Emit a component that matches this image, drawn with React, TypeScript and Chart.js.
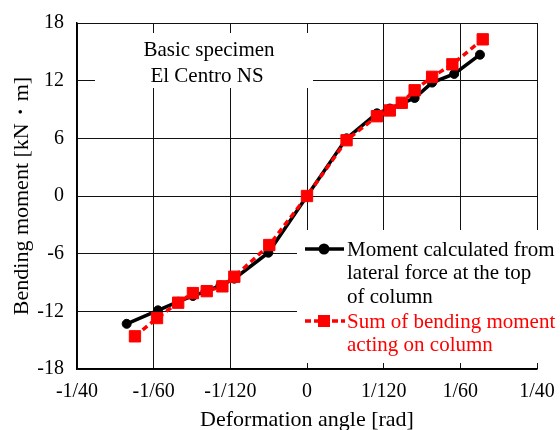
import React, { useEffect, useRef } from 'react';
import { Chart, registerables } from 'chart.js';

Chart.register(...registerables);

// Axis ticks
const xTickValues = [-3 / 120, -2 / 120, -1 / 120, 0, 1 / 120, 2 / 120, 3 / 120];
const xTickLabels = ['-1/40', '-1/60', '-1/120', '0', '1/120', '1/60', '1/40'];
const yTickValues = [-18, -12, -6, 0, 6, 12, 18];

// Series 1: Moment calculated from lateral force at the top of column
const lateralAngle = [-0.0196, -0.0162, -0.0140, -0.0124, -0.0109, -0.0094, -0.0079, -0.0042, 0, 0.0043, 0.0076, 0.0090, 0.0103, 0.0117, 0.0136, 0.0160, 0.0188];
const lateralMoment = [-13.3, -11.9, -11.0, -10.4, -9.9, -9.3, -8.6, -5.9, 0, 6.0, 8.6, 9.1, 9.6, 10.2, 11.8, 12.7, 14.7];

// Series 2: Sum of bending moment acting on column
const sumAngle = [-0.0187, -0.0163, -0.0140, -0.0124, -0.0109, -0.0092, -0.0079, -0.0041, 0, 0.0043, 0.0076, 0.0090, 0.0103, 0.0117, 0.0136, 0.0158, 0.0191];
const sumMoment = [-14.6, -12.7, -11.1, -10.1, -9.9, -9.4, -8.4, -5.1, 0, 5.8, 8.3, 8.9, 9.7, 11.0, 12.4, 13.7, 16.3];

const seriesNames = [
  'Moment calculated from lateral force at the top of column',
  'Sum of bending moment acting on column',
];
const legendLines1 = ['Moment calculated from', 'lateral force at the top', 'of column'];
const legendLines2 = ['Sum of bending moment', 'acting on column'];
const titleLines = ['Basic specimen', 'El Centro NS'];
const xTitle = 'Deformation angle [rad]';
const yTitle = 'Bending moment [kN・m]';

const FONT = '"Liberation Serif", "Times New Roman", serif';

const overlayPlugin = {
  id: 'overlay',
  beforeDatasetsDraw(chart: any) {
    const ctx = chart.ctx;
    ctx.save();
    ctx.fillStyle = '#ffffff';
    // title box
    ctx.fillRect(95, 33, 218, 55);
    // legend box
    ctx.fillRect(297, 230, 263, 133);
    ctx.restore();
  },
  afterDraw(chart: any) {
    const ctx = chart.ctx;
    ctx.save();
    ctx.font = `21px ${FONT}`;
    ctx.textBaseline = 'middle';
    ctx.textAlign = 'center';
    ctx.fillStyle = '#000';
    ctx.fillText(titleLines[0], 209, 50);
    ctx.fillText(titleLines[1], 207, 76);

    // legend
    ctx.textAlign = 'left';
    const lh = 23.8;
    legendLines1.forEach((t, i) => ctx.fillText(t, 347, 250 + i * lh));
    ctx.fillStyle = '#ff0000';
    legendLines2.forEach((t, i) => ctx.fillText(t, 347, 322 + i * lh));

    // black sample
    ctx.strokeStyle = '#000';
    ctx.lineWidth = 3.5;
    ctx.beginPath();
    ctx.moveTo(305, 249);
    ctx.lineTo(344, 249);
    ctx.stroke();
    ctx.fillStyle = '#000';
    ctx.beginPath();
    ctx.arc(324, 249, 5.5, 0, Math.PI * 2);
    ctx.fill();

    // red sample
    ctx.strokeStyle = '#ff0000';
    ctx.setLineDash([6, 3]);
    ctx.beginPath();
    ctx.moveTo(305, 321);
    ctx.lineTo(345, 321);
    ctx.stroke();
    ctx.setLineDash([]);
    ctx.fillStyle = '#ff0000';
    ctx.fillRect(318, 315, 12, 12);
    ctx.restore();
  },
};

export default function App() {
  const ref = useRef<HTMLCanvasElement>(null);
  useEffect(() => {
    document.body.style.margin = '0';
    const canvas = ref.current!;
    const chart = new Chart(canvas, {
      type: 'line',
      data: {
        datasets: [
          {
            label: seriesNames[0],
            data: lateralAngle.map((x, i) => ({ x, y: lateralMoment[i] })),
            borderColor: '#000',
            backgroundColor: '#000',
            borderWidth: 3.5,
            pointRadius: 4.5,
            pointBorderWidth: 1,
            pointStyle: 'circle',
            order: 1,
          },
          {
            label: seriesNames[1],
            data: sumAngle.map((x, i) => ({ x, y: sumMoment[i] })),
            borderColor: '#ff0000',
            backgroundColor: '#ff0000',
            borderWidth: 3.5,
            borderDash: [6, 4],
            pointRadius: 8,
            pointBorderWidth: 1,
            pointStyle: 'rect',
            order: 0,
          },
        ],
      },
      options: {
        responsive: false,
        animation: false,
        events: [],
        layout: { padding: { top: 23, right: 23, left: 0, bottom: 0 } },
        plugins: {
          legend: { display: false },
          tooltip: { enabled: false },
        },
        scales: {
          x: {
            type: 'linear',
            min: -0.025,
            max: 0.025,
            afterBuildTicks: (scale: any) => {
              scale.ticks = xTickValues.map((v) => ({ value: v }));
            },
            afterFit: (scale: any) => {
              scale.height = 61;
              scale.paddingLeft = 0;
              scale.paddingRight = 0;
            },
            ticks: {
              padding: 11,
              color: '#000',
              font: { family: FONT, size: 20 },
              callback: (_v: any, i: number) => xTickLabels[i],
              maxRotation: 0,
              autoSkip: false,
            },
            grid: { color: '#111', lineWidth: 1, drawTicks: false },
            border: { color: '#000', width: 1.5 },
            title: {
              display: true,
              text: xTitle,
              color: '#000',
              font: { family: FONT, size: 22 },
              padding: { top: 0, bottom: -3 },
            },
          },
          y: {
            type: 'linear',
            min: -18,
            max: 18,
            afterBuildTicks: (scale: any) => {
              scale.ticks = yTickValues.map((v) => ({ value: v }));
            },
            afterFit: (scale: any) => {
              scale.width = 77;
              scale.paddingTop = 0;
              scale.paddingBottom = 0;
            },
            ticks: {
              padding: 13,
              color: '#000',
              font: { family: FONT, size: 20 },
              callback: (v: any) => String(v),
            },
            grid: { color: '#111', lineWidth: 1, drawTicks: false },
            border: { color: '#000', width: 1.5 },
            title: {
              display: true,
              text: yTitle,
              color: '#000',
              font: { family: FONT, size: 22 },
              padding: { top: 9, bottom: 0 },
            },
          },
        },
      },
      plugins: [overlayPlugin],
    } as any);
    return () => chart.destroy();
  }, []);
  return <canvas ref={ref} width={560} height={430} style={{ display: 'block' }} />;
}
